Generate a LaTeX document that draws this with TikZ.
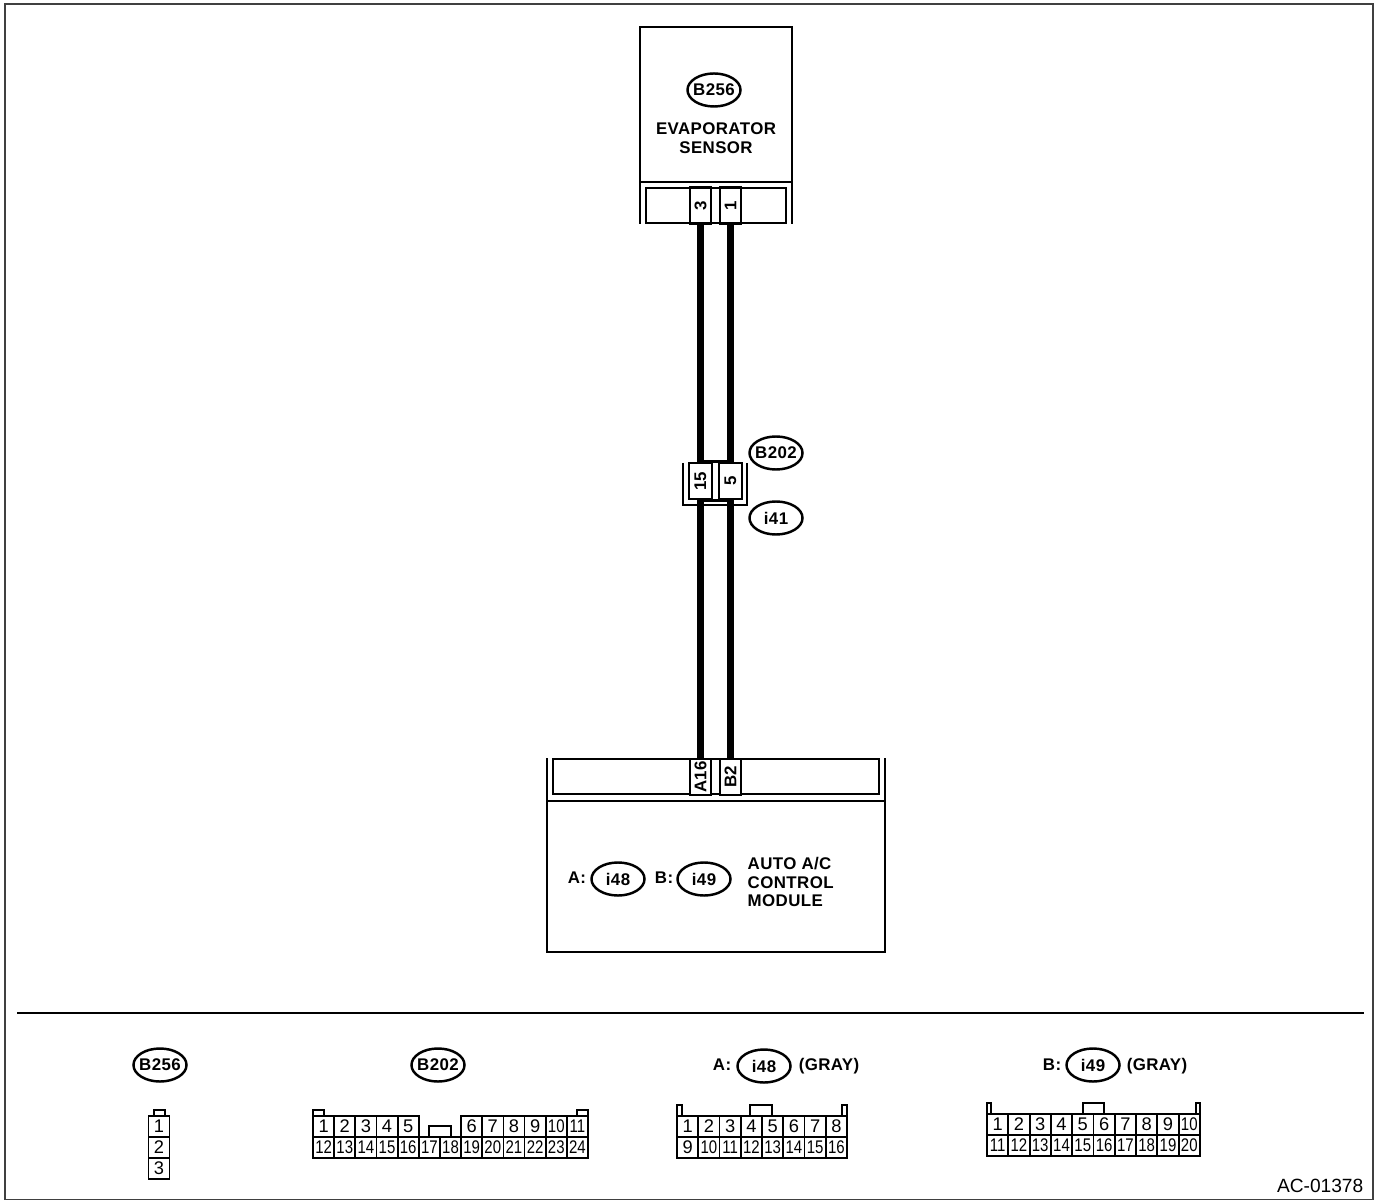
\documentclass[tikz,border=0pt]{standalone}
\usepackage{graphicx}
\usepackage{fontspec}
\setmainfont{Liberation Sans}
\newfontfamily\lblfont[LetterSpace=2.4]{Liberation Sans}
\usetikzlibrary{shapes.geometric}
\newcommand{\ovl}[1]{\makebox[0pt]{#1}}
\newcommand{\nr}[1]{\scalebox{.82}[1]{#1}}
\tikzset{
  lbl/.style={font=\fontsize{4.8}{5.3}\lblfont\bfseries, inner sep=0pt, align=left},
  oval/.style={ellipse, draw, line width=.7pt, fill=white, minimum width=.53cm, minimum height=.33cm, inner sep=0pt, font=\fontsize{4.8}{5.3}\lblfont\bfseries},
  pinbox/.style={draw, line width=.7pt, fill=white, rotate=90, minimum width=.36cm, minimum height=.21cm, inner sep=0pt, font=\fontsize{4.8}{5.3}\selectfont\bfseries},
  wire/.style={line width=2pt},
  heavy/.style={line width=.75pt},
  cell/.style={draw, line width=.5pt, minimum width=.2115cm, minimum height=.2115cm, inner sep=0pt, font=\fontsize{5.2}{5.6}\selectfont},
  tab/.style={line width=.5pt}
}
\begin{document}
\begin{tikzpicture}[x=.01cm,y=-.01cm]
\useasboundingbox (0,0) rectangle (1377,1201);
\draw[line width=.5pt, black!75](5,4) rectangle (1373,1199.5);

% evaporator sensor
\draw[heavy](640,224)--(640,27)--(792,27)--(792,224);
\draw[heavy](640,182)--(792,182);
\draw[heavy](646,188) rectangle (786,223);
\node[oval] (ovalB256) at (714,90) {\ovl{B256}};
\node[lbl, align=center] (evap) at (716,138) {EVAPORATOR\\SENSOR};
\node[pinbox] (pinE3) at (700.5,205.5) {3};
\node[pinbox] (pinE1) at (730.5,205.5) {1};

% joint connector
\draw[heavy](683,463)--(683,505)--(747,505)--(747,463);
\node[pinbox, minimum height=.23cm] (pinJ15) at (700.5,481) {15};
\node[pinbox, minimum height=.23cm] (pinJ5) at (730.5,481) {5};
\draw[heavy](pinJ15.east)--(pinJ5.east);
\draw[heavy](pinJ15.west)--(pinJ5.west);
\node[oval] (ovalB202) at (776,453) {\ovl{B202}};
\node[oval] (ovalI41) at (776,518) {\ovl{i41}};

% control module
\draw[heavy](547,758)--(547,952)--(885,952)--(885,758);
\draw[heavy](547,801)--(885,801);
\draw[heavy](553,759) rectangle (879,794);
\node[pinbox] (pinA16) at (700.5,777) {A16};
\node[pinbox] (pinB2) at (730.5,777) {B2};
\node[lbl] (lblA) at (577,878) {A:};
\node[oval] (ovalI48) at (618,879) {\ovl{i48}};
\node[lbl] (lblB) at (664,878) {B:};
\node[oval] (ovalI49) at (704,879) {\ovl{i49}};
\node[lbl, anchor=west] (acm) at (747,882) {AUTO A/C\\CONTROL\\MODULE};

% wires
\draw[wire](pinE3)--(pinJ15);
\draw[wire](pinE1)--(pinJ5);
\draw[wire](pinJ15)--(pinA16);
\draw[wire](pinJ5)--(pinB2);

\draw[line width=.8pt](17,1013)--(1364,1013);

% connector B256
\node[oval] (ovalB256b) at (160,1065) {\ovl{B256}};
\draw[tab](154,1116)--(154,1110)--(165,1110)--(165,1116);
\foreach \n in {1,2,3}
  \node[cell] (a\n) at (159,{1105.5+21*\n}) {\n};

% connector B202
\node[oval] (ovalB202b) at (438,1065) {\ovl{B202}};
\draw[tab](313,1116)--(313,1110)--(324,1110)--(324,1116);
\draw[tab](577,1116)--(577,1110)--(588,1110)--(588,1116);
\draw[tab](429,1137)--(429,1126)--(451,1126)--(451,1137);
\foreach \n [count=\i from 0] in {1,2,3,4,5}
  \node[cell] (b\n) at ({323.6+21.15*\i},1126.5) {\n};
\foreach \n [count=\i from 7] in {6,7,8,9}
  \node[cell] (b\n) at ({323.6+21.15*\i},1126.5) {\n};
\foreach \n [count=\i from 11] in {10,11}
  \node[cell] (b\n) at ({323.6+21.15*\i},1126.5) {\nr{\n}};
\foreach \n [count=\i from 0] in {12,...,24}
  \node[cell] (b\n) at ({323.6+21.15*\i},1147.5) {\nr{\n}};

% connector i48
\node[lbl] (lblAb) at (722,1065) {A:};
\node[oval] (ovalI48b) at (764,1066) {\ovl{i48}};
\node[lbl] (grayA) at (829,1066) {(GRAY)};
\draw[tab](677,1116)--(677,1105)--(682,1105)--(682,1116);
\draw[tab](842,1116)--(842,1105)--(847,1105)--(847,1116);
\draw[tab](750,1116)--(750,1105)--(772,1105)--(772,1116);
\foreach \n [count=\i from 0] in {1,...,8}
  \node[cell] (c\n) at ({687.6+21.25*\i},1126.5) {\n};
\node[cell] (c9) at (687.6,1147.5) {9};
\foreach \n [count=\i from 1] in {10,...,16}
  \node[cell] (c\n) at ({687.6+21.25*\i},1147.5) {\nr{\n}};

% connector i49
\node[lbl] (lblBb) at (1052,1065) {B:};
\node[oval] (ovalI49b) at (1093,1065) {\ovl{i49}};
\node[lbl] (grayB) at (1157,1066) {(GRAY)};
\draw[tab](987,1114)--(987,1103)--(991,1103)--(991,1114);
\draw[tab](1196,1114)--(1196,1103)--(1200,1103)--(1200,1114);
\draw[tab](1083,1114)--(1083,1103)--(1104,1103)--(1104,1114);
\foreach \n [count=\i from 0] in {1,...,9}
  \node[cell] (d\n) at ({997.6+21.3*\i},1124.5) {\n};
\node[cell] (d10) at (1189.3,1124.5) {\nr{10}};
\foreach \n [count=\i from 0] in {11,...,20}
  \node[cell] (d\n) at ({997.6+21.3*\i},1145.5) {\nr{\n}};

\node[inner sep=0pt, anchor=east, font=\fontsize{5.45}{6}\selectfont] (code) at (1364,1186) {AC-01378};
\end{tikzpicture}
\end{document}
